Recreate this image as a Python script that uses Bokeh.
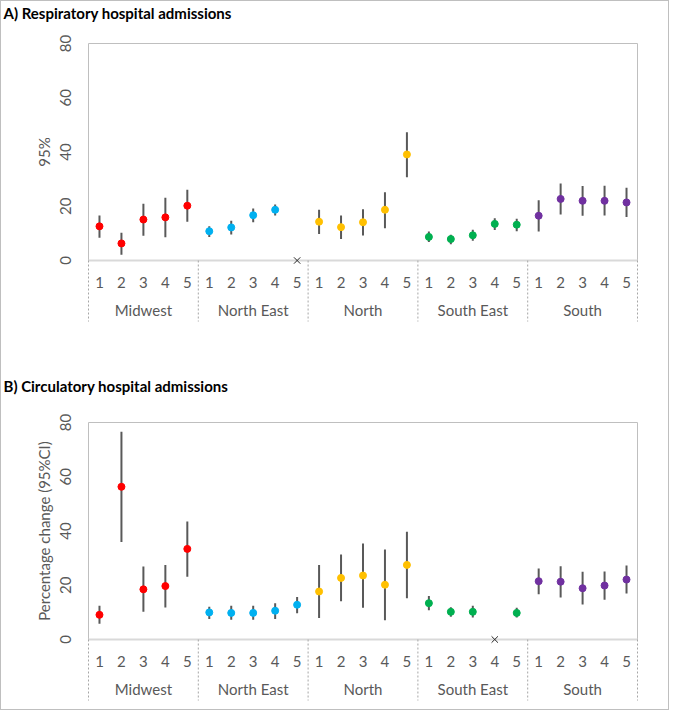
from bokeh.plotting import figure
from bokeh.models import FactorRange, Range1d, ColumnDataSource
from bokeh.core.properties import value
from bokeh.layouts import column
from bokeh.embed import file_html
from bokeh.resources import INLINE

regions = ["Midwest", "North East", "North", "South East", "South"]
groups = ["1", "2", "3", "4", "5"]
colors = ["#FF0000", "#00B0F0", "#FFC000", "#00B050", "#7030A0"]
y_ticks = [0, 20, 40, 60, 80]

# Panel A: respiratory (None = not estimated, shown as x at 0)
resp_est = [12.6, 6.3, 15.1, 15.9, 20.2,
            10.8, 12.2, 16.7, 18.7, None,
            14.3, 12.3, 14.1, 18.7, 39.1,
            8.7, 7.9, 9.3, 13.5, 13.2,
            16.5, 22.7, 22.0, 22.0, 21.4]
resp_lo = [8.4, 2.1, 9.1, 8.6, 14.3,
           8.7, 9.6, 14.1, 16.6, None,
           9.8, 7.9, 9.2, 11.9, 30.7,
           6.8, 6.0, 7.3, 11.2, 10.8,
           10.7, 17.0, 16.5, 16.6, 16.0]
resp_hi = [16.6, 10.2, 20.9, 23.1, 26.1,
           12.6, 14.7, 19.2, 20.6, None,
           18.7, 16.6, 18.9, 25.2, 47.3,
           10.7, 9.5, 11.3, 15.6, 15.4,
           22.2, 28.4, 27.5, 27.6, 26.8]

# Panel B: circulatory
circ_est = [9.1, 56.3, 18.5, 19.7, 33.4,
            10.0, 9.8, 9.8, 10.6, 12.8,
            17.7, 22.7, 23.6, 20.2, 27.5,
            13.4, 10.2, 10.2, None, 9.8,
            21.5, 21.3, 18.9, 19.9, 22.1]
circ_lo = [5.8, 35.9, 10.2, 11.8, 23.1,
           7.6, 7.3, 7.3, 7.6, 9.7,
           7.9, 14.1, 11.7, 7.1, 15.2,
           10.8, 8.4, 8.1, None, 8.1,
           16.7, 15.5, 12.9, 14.7, 17.0]
circ_hi = [12.4, 76.6, 26.9, 27.5, 43.5,
           12.1, 12.4, 12.4, 13.4, 15.7,
           27.5, 31.3, 35.4, 33.2, 39.7,
           16.0, 11.9, 12.4, None, 11.7,
           26.2, 27.0, 25.0, 25.1, 27.3]

FONT = "Lato"
GREY = "#595959"
SEP_DEPTH = -22.5  # how far the dotted group separators reach below the axis (data units)
Y_MAX = 80


def make_panel(title, ylabel, est, lo, hi, top_border, bottom_border, height, title_rise):
    factors = [(r, g) for r in regions for g in groups]
    xr = FactorRange(*factors, range_padding=0, group_padding=0, factor_padding=0)
    p = figure(x_range=xr, y_range=Range1d(0, Y_MAX), width=667, height=height,
               output_backend="svg", toolbar_location=None,
               min_border_left=87, min_border_right=31,
               min_border_top=top_border, min_border_bottom=bottom_border)
    p.xgrid.visible = False
    p.ygrid.visible = False
    p.outline_line_color = "#bfbfbf"
    p.outline_line_width = 1

    # panel title, anchored at the top-left corner of the plot frame and offset outward
    t = p.text(x=[(regions[0], groups[0], -0.5)], y=[Y_MAX], text=[title],
               x_offset=-85, y_offset=-title_rise,
               text_font=value(FONT), text_font_style="bold",
               text_font_size="15px", text_color="black",
               text_baseline="middle", text_align="left")
    t.level = "overlay"

    xs, ys, los, his, cs, miss = [], [], [], [], [], []
    for i, f in enumerate(factors):
        c = colors[regions.index(f[0])]
        if est[i] is None:
            miss.append(f)
            continue
        xs.append(f); ys.append(est[i]); los.append(lo[i]); his.append(hi[i]); cs.append(c)
    src = ColumnDataSource(dict(x=xs, y=ys, lo=los, hi=his, c=cs))
    p.segment(x0="x", x1="x", y0="lo", y1="hi", source=src, line_color=GREY, line_width=2)
    p.scatter(x="x", y="y", source=src, size=7, fill_color="c", line_color="c")

    # dotted separators between region groups, reaching down through the labels
    sep_x = [(r, "1", -0.5) for r in regions] + [(regions[-1], "5", 0.5)]
    sr = p.segment(x0=sep_x, x1=sep_x, y0=[0] * len(sep_x), y1=[SEP_DEPTH] * len(sep_x),
                   line_color="#a6a6a6", line_width=1, line_dash="2 2")
    sr.level = "overlay"

    if miss:
        r = p.scatter(x=miss, y=[0] * len(miss), marker="x", size=9, line_color="#262626",
                      line_width=1)
        r.level = "overlay"

    xa = p.xaxis[0]
    xa.axis_line_color = "#d9d9d9"
    xa.axis_line_width = 2
    xa.major_tick_line_color = None
    xa.minor_tick_line_color = None
    xa.major_label_text_font = FONT
    xa.major_label_text_font_size = "15px"
    xa.major_label_text_color = GREY
    xa.group_text_font = FONT
    xa.group_text_font_size = "15px"
    xa.group_text_color = GREY
    xa.group_text_font_style = "normal"
    xa.separator_line_color = None
    xa.major_label_standoff = 10

    ya = p.yaxis[0]
    ya.ticker = y_ticks
    ya.axis_line_color = None
    ya.major_tick_line_color = None
    ya.minor_tick_line_color = None
    ya.major_label_orientation = "vertical"
    ya.major_label_text_font = FONT
    ya.major_label_text_font_size = "15px"
    ya.major_label_text_color = GREY
    ya.major_label_standoff = 12
    ya.axis_label = ylabel
    ya.axis_label_text_font = FONT
    ya.axis_label_text_font_size = "15px"
    ya.axis_label_text_font_style = "normal"
    ya.axis_label_text_color = GREY
    ya.axis_label_standoff = 4
    return p


p1 = make_panel("A) Respiratory hospital admissions", "95%", resp_est, resp_lo, resp_hi,
                42, 103, 362, 31)
p2 = make_panel("B) Circulatory hospital admissions", "Percentage change (95%CI)",
                circ_est, circ_lo, circ_hi, 59, 70, 346, 37)

layout = column(p1, p2, spacing=0, styles={"border": "1px solid #bfbfbf"})
open("out.html", "w").write(file_html(layout, INLINE))
